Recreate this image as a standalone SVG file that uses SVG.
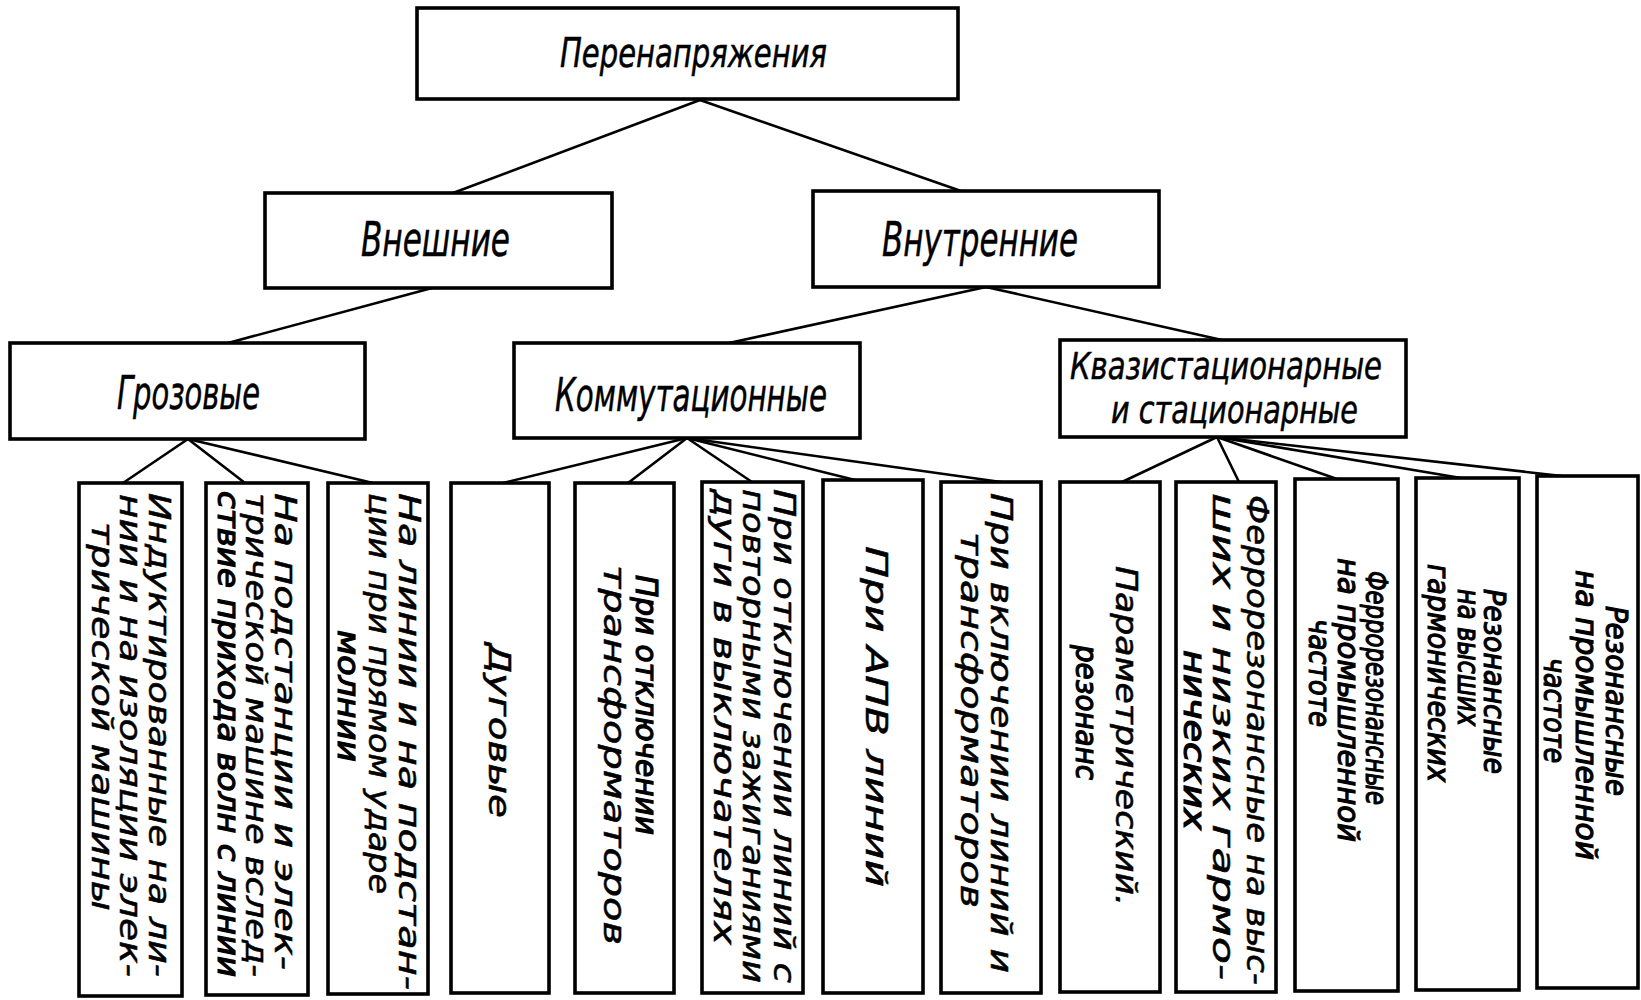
<svg xmlns="http://www.w3.org/2000/svg" width="1641" height="1000" viewBox="0 0 1641 1000">
<style>
.box{fill:#fff;stroke:#000;stroke-width:3.6}
.con line{stroke:#000;stroke-width:2.6;stroke-linecap:round}
text{font-family:"DejaVu Sans Condensed","Liberation Sans Narrow","Liberation Sans",sans-serif;font-style:oblique;fill:#000}
.h{font-size:46px;stroke:#000;stroke-width:0.5}
.v{font-size:30px;stroke:#000;stroke-width:0.5}
.c{stroke-width:1.1}
</style>
<rect width="1641" height="1000" fill="#fff"/>
<g id="connectors" class="con">
<line x1="700" y1="100" x2="453" y2="193"/>
<line x1="700" y1="100" x2="961" y2="191"/>
<line x1="432" y1="288" x2="228" y2="343"/>
<line x1="986" y1="287" x2="729" y2="343"/>
<line x1="986" y1="287" x2="1222" y2="340"/>
<line x1="188" y1="439" x2="123" y2="483"/>
<line x1="188" y1="439" x2="245" y2="483"/>
<line x1="188" y1="439" x2="373" y2="483"/>
<line x1="687" y1="438" x2="503" y2="483"/>
<line x1="687" y1="438" x2="628" y2="483"/>
<line x1="687" y1="438" x2="752" y2="482"/>
<line x1="687" y1="438" x2="855" y2="480"/>
<line x1="687" y1="438" x2="1001" y2="482"/>
<line x1="1217" y1="437" x2="1122" y2="482"/>
<line x1="1217" y1="437" x2="1239" y2="482"/>
<line x1="1217" y1="437" x2="1337" y2="479"/>
<line x1="1217" y1="437" x2="1461" y2="478"/>
<line x1="1217" y1="437" x2="1562" y2="476"/>
</g>
<g id="n-root"><rect class="box" x="417" y="8" width="541" height="91"/>
<text class="h" style="font-size:40px" x="560" y="67" textLength="267" lengthAdjust="spacingAndGlyphs">Перенапряжения</text></g>
<g id="n-vneshnie"><rect class="box" x="265" y="193" width="347" height="95"/>
<text class="h" style="font-size:48px" x="361" y="256" textLength="149" lengthAdjust="spacingAndGlyphs">Внешние</text></g>
<g id="n-vnutrennie"><rect class="box" x="813" y="191" width="346" height="96"/>
<text class="h" style="font-size:48px" x="882" y="256" textLength="196" lengthAdjust="spacingAndGlyphs">Внутренние</text></g>
<g id="n-grozovye"><rect class="box" x="10" y="343" width="355" height="96"/>
<text class="h" x="117" y="409" textLength="143" lengthAdjust="spacingAndGlyphs">Грозовые</text></g>
<g id="n-kommut"><rect class="box" x="514" y="343" width="346" height="95"/>
<text class="h" x="555" y="411" textLength="272" lengthAdjust="spacingAndGlyphs">Коммутационные</text></g>
<g id="n-kvazi"><rect class="box" x="1060" y="340" width="346" height="97"/>
<text class="h" style="font-size:37px" x="1070" y="379" textLength="312" lengthAdjust="spacingAndGlyphs">Квазистационарные</text>
<text class="h" style="font-size:37px" x="1111" y="423" textLength="247" lengthAdjust="spacingAndGlyphs">и стационарные</text></g>

<g id="b1"><rect class="box" x="79" y="483" width="103" height="513"/>
<text class="v" transform="translate(149,493) rotate(90)" textLength="484" lengthAdjust="spacingAndGlyphs">Индуктированные на ли-</text>
<text class="v" transform="translate(120,494) rotate(90)" textLength="483" lengthAdjust="spacingAndGlyphs">нии и на изоляции элек-</text>
<text class="v" transform="translate(92,522) rotate(90)" textLength="389" lengthAdjust="spacingAndGlyphs">трической машины</text></g>
<g id="b2"><rect class="box" x="206" y="483" width="102" height="512"/>
<text class="v" transform="translate(275,493) rotate(90)" textLength="477" lengthAdjust="spacingAndGlyphs">На подстанции и элек-</text>
<text class="v" transform="translate(246,493) rotate(90)" textLength="484" lengthAdjust="spacingAndGlyphs">трической машине вслед-</text>
<text class="v c" transform="translate(218,491) rotate(90)" textLength="486" lengthAdjust="spacingAndGlyphs">ствие прихода волн с линии</text></g>
<g id="b3"><rect class="box" x="328" y="483" width="100" height="511"/>
<text class="v" transform="translate(399,493) rotate(90)" textLength="497" lengthAdjust="spacingAndGlyphs">На линии и на подстан-</text>
<text class="v" transform="translate(369,493) rotate(90)" textLength="401" lengthAdjust="spacingAndGlyphs">ции при прямом ударе</text>
<text class="v c" transform="translate(338,630) rotate(90)" textLength="132" lengthAdjust="spacingAndGlyphs">молнии</text></g>
<g id="b4"><rect class="box" x="451" y="483" width="98" height="510"/>
<text class="v" transform="translate(489,643) rotate(90)" textLength="175" lengthAdjust="spacingAndGlyphs">Дуговые</text></g>
<g id="b5"><rect class="box" x="575" y="483" width="99" height="510"/>
<text class="v c" transform="translate(636,575) rotate(90)" textLength="260" lengthAdjust="spacingAndGlyphs">При отключении</text>
<text class="v" transform="translate(604,565) rotate(90)" textLength="380" lengthAdjust="spacingAndGlyphs">трансформаторов</text></g>
<g id="b6"><rect class="box" x="702" y="482" width="101" height="511"/>
<text class="v" transform="translate(774,489) rotate(90)" textLength="494" lengthAdjust="spacingAndGlyphs">При отключении линий с</text>
<text class="v" transform="translate(743,489) rotate(90)" textLength="494" lengthAdjust="spacingAndGlyphs">повторными зажиганиями</text>
<text class="v" transform="translate(714,489) rotate(90)" textLength="456" lengthAdjust="spacingAndGlyphs">дуги в выключателях</text></g>
<g id="b7"><rect class="box" x="823" y="480" width="100" height="513"/>
<text class="v" transform="translate(866,546) rotate(90)" textLength="341" lengthAdjust="spacingAndGlyphs">При АПВ линий</text></g>
<g id="b8"><rect class="box" x="941" y="482" width="100" height="511"/>
<text class="v" transform="translate(991,493) rotate(90)" textLength="480" lengthAdjust="spacingAndGlyphs">При включении линий и</text>
<text class="v" transform="translate(961,532) rotate(90)" textLength="376" lengthAdjust="spacingAndGlyphs">трансформаторов</text></g>
<g id="b9"><rect class="box" x="1060" y="482" width="100" height="510"/>
<text class="v" transform="translate(1116,566) rotate(90)" textLength="340" lengthAdjust="spacingAndGlyphs">Параметрический.</text>
<text class="v c" transform="translate(1076,645) rotate(90)" textLength="135" lengthAdjust="spacingAndGlyphs">резонанс</text></g>
<g id="b10"><rect class="box" x="1176" y="482" width="100" height="510"/>
<text class="v" transform="translate(1247,495) rotate(90)" textLength="490" lengthAdjust="spacingAndGlyphs">Феррорезонансные на выс-</text>
<text class="v" transform="translate(1213,493) rotate(90)" textLength="487" lengthAdjust="spacingAndGlyphs">ших и низких гармо-</text>
<text class="v c" transform="translate(1184,650) rotate(90)" textLength="180" lengthAdjust="spacingAndGlyphs">нических</text></g>
<g id="b11"><rect class="box" x="1295" y="479" width="103" height="512"/>
<text class="v c" transform="translate(1366,571) rotate(90)" textLength="234" lengthAdjust="spacingAndGlyphs">Феррорезонансные</text>
<text class="v c" transform="translate(1338,558) rotate(90)" textLength="284" lengthAdjust="spacingAndGlyphs">на промышленной</text>
<text class="v c" transform="translate(1309,619) rotate(90)" textLength="108" lengthAdjust="spacingAndGlyphs">частоте</text></g>
<g id="b12"><rect class="box" x="1416" y="478" width="103" height="512"/>
<text class="v c" transform="translate(1484,589) rotate(90)" textLength="185" lengthAdjust="spacingAndGlyphs">Резонансные</text>
<text class="v c" transform="translate(1458,589) rotate(90)" textLength="137" lengthAdjust="spacingAndGlyphs">на высших</text>
<text class="v c" transform="translate(1428,564) rotate(90)" textLength="218" lengthAdjust="spacingAndGlyphs">гармонических</text></g>
<g id="b13"><rect class="box" x="1537" y="476" width="101" height="512"/>
<text class="v c" transform="translate(1606,606) rotate(90)" textLength="190" lengthAdjust="spacingAndGlyphs">Резонансные</text>
<text class="v c" transform="translate(1576,570) rotate(90)" textLength="290" lengthAdjust="spacingAndGlyphs">на промышленной</text>
<text class="v c" transform="translate(1544,658) rotate(90)" textLength="105" lengthAdjust="spacingAndGlyphs">частоте</text></g>
</svg>
